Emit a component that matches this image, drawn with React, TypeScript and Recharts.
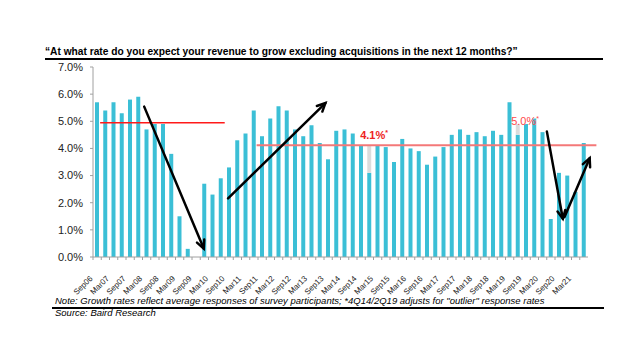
import React from 'react'
import { BarChart, Bar, XAxis, YAxis, ReferenceLine, ReferenceDot } from 'recharts'

// quarterly survey results, Sep06 .. Jun21
const quarters = [
  'Sep06', 'Dec06', 'Mar07', 'Jun07', 'Sep07', 'Dec07', 'Mar08', 'Jun08', 'Sep08', 'Dec08',
  'Mar09', 'Jun09', 'Sep09', 'Dec09', 'Mar10', 'Jun10', 'Sep10', 'Dec10', 'Mar11', 'Jun11',
  'Sep11', 'Dec11', 'Mar12', 'Jun12', 'Sep12', 'Dec12', 'Mar13', 'Jun13', 'Sep13', 'Dec13',
  'Mar14', 'Jun14', 'Sep14', 'Dec14', 'Mar15', 'Jun15', 'Sep15', 'Dec15', 'Mar16', 'Jun16',
  'Sep16', 'Dec16', 'Mar17', 'Jun17', 'Sep17', 'Dec17', 'Mar18', 'Jun18', 'Sep18', 'Dec18',
  'Mar19', 'Jun19', 'Sep19', 'Dec19', 'Mar20', 'Jun20', 'Sep20', 'Dec20', 'Mar21', 'Jun21',
]

const growth = [
  5.7, 5.4, 5.7, 5.3, 5.8, 5.9, 4.7, 4.9, 4.9, 3.8,
  1.5, 0.3, 0, 2.7, 2.3, 2.9, 3.3, 4.3, 4.55, 5.4,
  4.45, 5.1, 5.55, 5.4, 4.7, 4.45, 4.85, 4.2, 3.6, 4.65,
  4.7, 4.55, 4.1, 3.1, 4.1, 4.05, 3.5, 4.35, 4.0, 3.9,
  3.4, 3.7, 4.05, 4.5, 4.7, 4.5, 4.6, 4.45, 4.65, 4.5,
  5.7, 4.5, 4.9, 5.1, 4.6, 1.4, 3.1, 3.0, 2.4, 4.2,
]

// grey part = unadjusted "outlier" response on top of the adjusted value (4Q14, 2Q19)
const outlier = [
  0, 0, 0, 0, 0, 0, 0, 0, 0, 0,
  0, 0, 0, 0, 0, 0, 0, 0, 0, 0,
  0, 0, 0, 0, 0, 0, 0, 0, 0, 0,
  0, 0, 0, 1.0, 0, 0, 0, 0, 0, 0,
  0, 0, 0, 0, 0, 0, 0, 0, 0, 0,
  0, 0.4, 0, 0, 0, 0, 0, 0, 0, 0,
]

const yTicks = [0, 1, 2, 3, 4, 5, 6, 7]

// annotations, in (bar position, %) units
const avgLines = [
  { x1: 0.85, x2: 15.7, y: 4.95, color: '#ff1a1a', width: 1.5 },
  { x1: 19.5, x2: 60, y: 4.12, color: '#f47878', width: 2 },
]
const avgLabels = [
  { x: 33.5, y: 4.36, text: '4.1%', bold: true, color: '#ee2222' },
  { x: 51.5, y: 4.85, text: '5.0%', bold: false, color: '#ff4a4a' },
]
const arrows = [
  { x1: 6.1, y1: 5.54, x2: 13.2, y2: 0.31 },
  { x1: 16.1, y1: 2.16, x2: 27.7, y2: 5.67 },
  { x1: 54.1, y1: 4.62, x2: 56.0, y2: 1.41 },
  { x1: 56.2, y1: 1.47, x2: 59.2, y2: 3.64 },
]

const data = quarters.map((q, i) => ({ q, growth: growth[i], outlier: outlier[i] }))

const BAND = 495 / 60
const font = '"Liberation Sans", Arial, sans-serif'

const XTick = (props: any) => {
  const { x, y, payload } = props
  const i = payload.index
  const ax = x - 4
  const ay = y + 22
  return (
    <g>
      <line x1={x - BAND / 2} x2={x - BAND / 2} y1={y} y2={y + 3} stroke="#a0a0a0" />
      {i % 2 === 0 && (
        <text x={ax} y={ay} transform={`rotate(-45 ${ax} ${ay})`} textAnchor="end"
          fontSize={8} fontFamily={font} fill="#222">
          {payload.value}
        </text>
      )}
    </g>
  )
}

const Arrow = (props: any) => {
  const { x1, y1, x2, y2 } = props
  const a = Math.atan2(y2 - y1, x2 - x1)
  const len = 9
  const spread = 0.45
  const h1x = x2 - len * Math.cos(a - spread)
  const h1y = y2 - len * Math.sin(a - spread)
  const h2x = x2 - len * Math.cos(a + spread)
  const h2y = y2 - len * Math.sin(a + spread)
  return (
    <g stroke="#000" strokeWidth={2.5} strokeLinecap="round" fill="none">
      <line x1={x1} y1={y1} x2={x2} y2={y2} />
      <polyline points={`${h1x},${h1y} ${x2},${y2} ${h2x},${h2y}`} />
    </g>
  )
}

export default function App() {
  return (
    <div style={{ position: 'absolute', left: 0, top: 0, width: 640, height: 360, background: '#fff', fontFamily: font }}>
      <div style={{ position: 'absolute', left: 45, top: 47, fontSize: 10.2, lineHeight: '10px', fontWeight: 'bold', color: '#000', whiteSpace: 'nowrap' }}>
        “At what rate do you expect your revenue to grow excluding acquisitions in the next 12 months?”
      </div>
      <div style={{ position: 'absolute', left: 45, top: 58, width: 558, height: 2, background: '#000' }} />

      <div style={{ position: 'absolute', left: 0, top: 0 }}>
        <BarChart width={640} height={360} data={data} margin={{ top: 67, right: 52, bottom: 63, left: 33 }}
          barSize={4}>
          <XAxis dataKey="q" interval={0} tick={<XTick />} tickLine={false} tickSize={0} tickMargin={0}
            height={40} axisLine={{ stroke: '#a0a0a0' }} />
          <XAxis xAxisId="num" type="number" domain={[0, 60]} hide allowDataOverflow />
          <YAxis domain={[0, 7]} ticks={yTicks} width={60} tickSize={3} tickMargin={7}
            tickLine={{ stroke: '#a0a0a0' }} axisLine={{ stroke: '#a0a0a0' }}
            tickFormatter={(v) => `${v.toFixed(1)}%`}
            tick={{ fontSize: 11, fill: '#222', fontFamily: font }} />
          <Bar dataKey="growth" stackId="a" fill="#3bbfd6" isAnimationActive={false} />
          <Bar dataKey="outlier" stackId="a" fill="#dcdcdc" isAnimationActive={false} />
          {avgLines.map((l, i) => (
            <ReferenceLine key={'l' + i} xAxisId="num" segment={[{ x: l.x1, y: l.y }, { x: l.x2, y: l.y }]}
              stroke={l.color} strokeWidth={l.width} ifOverflow="visible" />
          ))}
          {arrows.map((a, i) => (
            <ReferenceLine key={'a' + i} xAxisId="num" segment={[{ x: a.x1, y: a.y1 }, { x: a.x2, y: a.y2 }]}
              ifOverflow="visible" shape={<Arrow />} />
          ))}
          {avgLabels.map((t, i) => (
            <ReferenceDot key={'t' + i} xAxisId="num" x={t.x} y={t.y} r={0} ifOverflow="visible"
              shape={(p: any) => (
                <text x={p.cx} y={p.cy} textAnchor="middle" fontSize={11} fontFamily={font}
                  fontWeight={t.bold ? 'bold' : 'normal'} fill={t.color}>
                  {t.text}
                  <tspan fontSize={7} dy={-4}>*</tspan>
                </text>
              )} />
          ))}
        </BarChart>
      </div>

      <div style={{ position: 'absolute', left: 55, top: 295.5, fontSize: 9.5, lineHeight: '10px', fontStyle: 'italic', color: '#000', whiteSpace: 'nowrap' }}>
        Note: Growth rates reflect average responses of survey participants; *4Q14/2Q19 adjusts for "outlier" response rates
      </div>
      <div style={{ position: 'absolute', left: 52, top: 306.5, width: 552, height: 2, background: '#000' }} />
      <div style={{ position: 'absolute', left: 55, top: 308, fontSize: 9.5, lineHeight: '10px', fontStyle: 'italic', color: '#000', whiteSpace: 'nowrap' }}>
        Source: Baird Research
      </div>
    </div>
  )
}
